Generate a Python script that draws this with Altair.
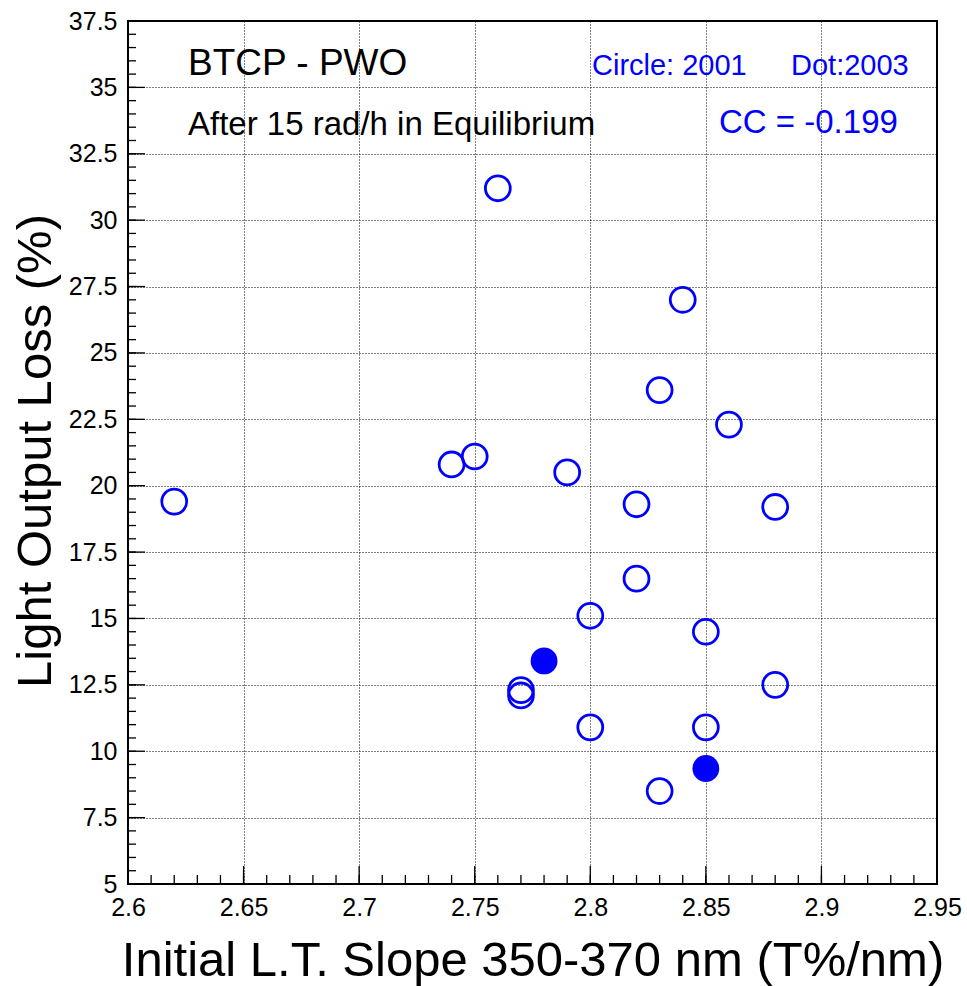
import altair as alt
import pandas as pd

# ---- data ----
x_circle_2001 = [2.62, 2.74, 2.75, 2.76, 2.79, 2.82, 2.82, 2.80, 2.84, 2.83,
                 2.86, 2.88, 2.85, 2.88, 2.85, 2.80, 2.83, 2.77, 2.77]
y_circle_2001 = [19.4, 20.8, 21.1, 31.2, 20.5, 19.3, 16.5, 15.1, 27.0, 23.6,
                 22.3, 19.2, 14.5, 12.5, 10.9, 10.9, 8.5, 12.3, 12.1]
x_dot_2003 = [2.78, 2.85]
y_dot_2003 = [13.4, 9.35]

x_major = [2.6, 2.65, 2.7, 2.75, 2.8, 2.85, 2.9, 2.95]
y_major = [5, 7.5, 10, 12.5, 15, 17.5, 20, 22.5, 25, 27.5, 30, 32.5, 35, 37.5]
x_minor = [round(2.6 + 0.01 * i, 3) for i in range(36)]
y_minor = [round(5 + 0.5 * i, 2) for i in range(66)]

W, H = 809, 863
FONT = "Liberation Sans"
BLUE = "#0000ff"

xs = alt.Scale(domain=[2.6, 2.95], nice=False, zero=False)
ys = alt.Scale(domain=[5, 37.5], nice=False, zero=False)

x_axis = alt.Axis(values=x_major, format=".3~g", grid=True, gridDash=[1, 2],
                  gridColor="#000000", gridWidth=1, gridOpacity=1,
                  tickSize=0, domain=False, labelFont=FONT, labelFontSize=25,
                  labelColor="black", labelPadding=11, labelFlush=False,
                  labelOverlap=False,
                  title="Initial L.T. Slope 350-370 nm (T%/nm)", titleFont=FONT,
                  titleFontSize=49, titleFontWeight="normal", titleColor="black",
                  titleX=W / 2, titleY=91, titleBaseline="alphabetic",
                  titleAnchor="middle")
y_axis = alt.Axis(values=y_major, format=".3~g", grid=True, gridDash=[1, 2],
                  gridColor="#000000", gridWidth=1, gridOpacity=1,
                  tickSize=0, domain=False, labelFont=FONT, labelFontSize=25,
                  labelColor="black", labelPadding=11, labelFlush=False,
                  labelOverlap=False,
                  title="Light Output Loss (%)", titleFont=FONT,
                  titleFontSize=49, titleFontWeight="normal", titleColor="black",
                  titleX=-78, titleY=H / 2 - 2, titleBaseline="alphabetic",
                  titleAngle=-90, titleAnchor="middle")

df_c = pd.DataFrame({"x": x_circle_2001, "y": y_circle_2001})
df_d = pd.DataFrame({"x": x_dot_2003, "y": y_dot_2003})

circles = alt.Chart(df_c).mark_point(
    shape="circle", filled=False, color=BLUE, size=620, strokeWidth=2.8, opacity=1
).encode(x=alt.X("x:Q", scale=xs, axis=x_axis),
         y=alt.Y("y:Q", scale=ys, axis=y_axis))

dots = alt.Chart(df_d).mark_point(
    shape="circle", filled=True, color=BLUE, size=720, opacity=1
).encode(x=alt.X("x:Q", scale=xs), y=alt.Y("y:Q", scale=ys))

# inward ticks (ROOT style)
def xticks(vals, length):
    return alt.Chart(pd.DataFrame({"t": vals})).mark_rule(
        color="black", strokeWidth=1.3
    ).encode(x=alt.X("t:Q", scale=xs), y=alt.value(H), y2=alt.value(H - length))

def yticks(vals, length):
    return alt.Chart(pd.DataFrame({"t": vals})).mark_rule(
        color="black", strokeWidth=1.3
    ).encode(y=alt.Y("t:Q", scale=ys), x=alt.value(0), x2=alt.value(length))

one = alt.Data(values=[{}])

def label(text, x, y, size, color="black"):
    return alt.Chart(one).mark_text(
        text=text, font=FONT, fontSize=size, color=color, align="left",
        baseline="alphabetic"
    ).encode(x=alt.value(x), y=alt.value(y))

chart = alt.layer(
    xticks(x_minor, 9), xticks(x_major, 18),
    yticks(y_minor, 8), yticks(y_major, 17),
    circles, dots,
    label("BTCP - PWO", 60, 54, 37),
    label("After 15 rad/h in Equilibrium", 60, 114, 33),
    label("Circle: 2001", 464, 54, 29, BLUE),
    label("Dot:2003", 663, 54, 29, BLUE),
    label("CC = -0.199", 591, 112, 33, BLUE),
).properties(
    width=W, height=H,
    autosize=alt.AutoSizeParams(type="none"),
    padding={"left": 128, "top": 21, "right": 30, "bottom": 102},
    background="white",
).configure_view(stroke="black", strokeWidth=2)

chart.save("out.html", embed_options={"renderer": "svg", "actions": False})
